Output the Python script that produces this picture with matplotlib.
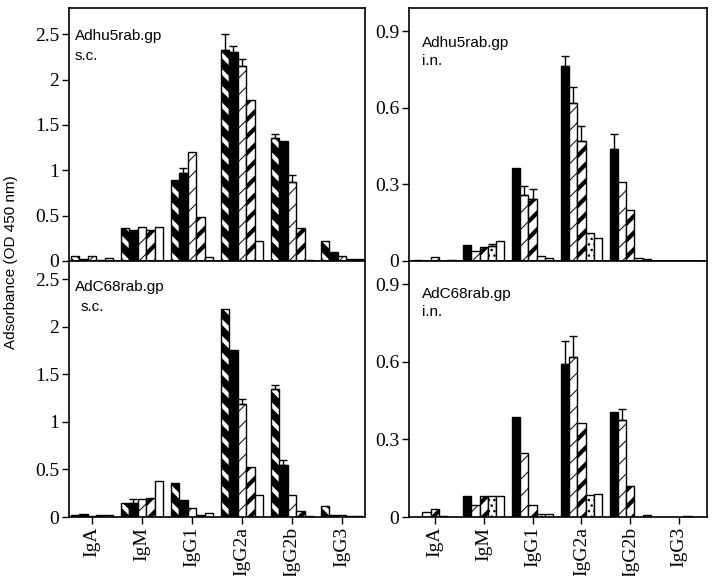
import matplotlib
matplotlib.use('Agg')
import matplotlib.pyplot as plt
import numpy as np

# Immunoglobulin isotypes on the x axis
isotypes = ['IgA', 'IgM', 'IgG1', 'IgG2a', 'IgG2b', 'IgG3']

# Adhu5rab.gp s.c. (5 series per isotype)
hu5_sc = [
    [0.05, 0.36, 0.89, 2.33, 1.36, 0.22],
    [0.02, 0.34, 0.97, 2.30, 1.32, 0.10],
    [0.05, 0.37, 1.20, 2.15, 0.87, 0.06],
    [0.01, 0.34, 0.48, 1.78, 0.36, 0.025],
    [0.03, 0.375, 0.04, 0.22, 0.01, 0.02],
]
hu5_sc_err = [
    [0, 0, 0, 0.17, 0.04, 0],
    [0, 0, 0.06, 0.07, 0, 0],
    [0, 0, 0, 0.08, 0.08, 0],
    [0, 0, 0, 0, 0, 0],
    [0, 0, 0, 0, 0, 0],
]

# AdC68rab.gp s.c.
c68_sc = [
    [0.025, 0.15, 0.36, 2.19, 1.34, 0.12],
    [0.035, 0.15, 0.175, 1.75, 0.55, 0.025],
    [0.015, 0.19, 0.09, 1.19, 0.23, 0.025],
    [0.025, 0.20, 0.025, 0.53, 0.065, 0.015],
    [0.025, 0.375, 0.04, 0.23, 0.015, 0.015],
]
c68_sc_err = [
    [0, 0, 0, 0, 0.05, 0],
    [0, 0.04, 0, 0, 0.05, 0],
    [0, 0, 0, 0.05, 0, 0],
    [0, 0, 0, 0, 0, 0],
    [0, 0, 0, 0, 0, 0],
]

# Adhu5rab.gp i.n.
hu5_in = [
    [0.005, 0.064, 0.363, 0.763, 0.438, 0.0],
    [0.0, 0.04, 0.258, 0.617, 0.309, 0.0],
    [0.017, 0.055, 0.243, 0.47, 0.20, 0.0],
    [0.0, 0.06, 0.02, 0.108, 0.013, 0.0],
    [0.004, 0.077, 0.01, 0.089, 0.008, 0.0],
]
hu5_in_err = [
    [0, 0, 0, 0.04, 0.06, 0],
    [0, 0, 0.035, 0.065, 0, 0],
    [0, 0, 0.04, 0.06, 0, 0],
    [0, 0.008, 0, 0, 0, 0],
    [0, 0, 0, 0, 0, 0],
]

# AdC68rab.gp i.n.
c68_in = [
    [0.0, 0.08, 0.386, 0.592, 0.408, 0.0],
    [0.018, 0.045, 0.249, 0.619, 0.376, 0.0],
    [0.031, 0.08, 0.045, 0.363, 0.119, 0.0],
    [0.005, 0.08, 0.01, 0.087, 0.0, 0.003],
    [0.0, 0.08, 0.01, 0.09, 0.009, 0.0],
]
c68_in_err = [
    [0, 0, 0, 0.09, 0, 0],
    [0, 0, 0, 0.08, 0.04, 0],
    [0, 0, 0, 0, 0, 0],
    [0, 0, 0, 0, 0, 0],
    [0, 0, 0, 0, 0, 0],
]

# bar styles: (facecolor, hatch colour, hatch, hatch linewidth)
sc_styles = [('black', 'white', '\\\\', 3.0),
             ('black', 'black', '', 1.0),
             ('white', 'black', '//', 0.7),
             ('white', 'black', '//', 3.0),
             ('white', 'black', '', 1.0)]
in_styles = [('black', 'black', '', 1.0),
             ('white', 'black', '//', 0.7),
             ('white', 'black', '//', 3.0),
             ('white', 'black', '...', 1.0),
             ('white', 'black', '', 1.0)]

serif = 'Liberation Serif'
sans = 'Liberation Sans'

fig = plt.figure(figsize=(7.14, 5.76), dpi=100)
ax_tl = fig.add_axes([0.0966, 0.5469, 0.4146, 0.4392])
ax_bl = fig.add_axes([0.0966, 0.1024, 0.4146, 0.4445])
ax_tr = fig.add_axes([0.5728, 0.5469, 0.4174, 0.4392])
ax_br = fig.add_axes([0.5728, 0.1024, 0.4174, 0.4445])

x = np.arange(len(isotypes))
w = 0.17


def draw_panel(ax, values, errs, styles):
    for i in range(5):
        fc, hc, hatch, hlw = styles[i]
        pos = x + (i - 2) * w
        with plt.rc_context({'hatch.linewidth': hlw}):
            bars = ax.bar(pos, values[i], w, color=fc, edgecolor=hc, hatch=hatch, linewidth=0)
        for b in bars:
            if hasattr(b, 'set_hatch_linewidth'):
                b.set_hatch_linewidth(hlw)
        ax.bar(pos, values[i], w, fill=False, edgecolor='black', linewidth=1.0)
        e = np.array(errs[i])
        v = np.array(values[i])
        m = e > 0
        if m.any():
            ax.errorbar(pos[m], v[m], yerr=[np.zeros(m.sum()), e[m]], fmt='none',
                        ecolor='black', elinewidth=1.0, capsize=3, capthick=1.0)


draw_panel(ax_tl, hu5_sc, hu5_sc_err, sc_styles)
draw_panel(ax_bl, c68_sc, c68_sc_err, sc_styles)
draw_panel(ax_tr, hu5_in, hu5_in_err, in_styles)
draw_panel(ax_br, c68_in, c68_in_err, in_styles)

left_ticks = [0, 0.5, 1, 1.5, 2, 2.5]
left_labels = ['0', '0.5', '1', '1.5', '2', '2.5']
right_ticks = [0, 0.3, 0.6, 0.9]
right_labels = ['0', '0.3', '0.6', '0.9']

for ax in [ax_tl, ax_bl]:
    ax.set_xlim(-0.46, 5.46)
    ax.set_yticks(left_ticks)
    ax.set_yticklabels(left_labels, fontfamily=serif, fontsize=14)
for ax in [ax_tr, ax_br]:
    ax.set_xlim(-0.53, 5.57)
    ax.set_yticks(right_ticks)
    ax.set_yticklabels(right_labels, fontfamily=serif, fontsize=14)

ax_tl.set_ylim(0, 2.79)
ax_bl.set_ylim(0, 2.69)
ax_tr.set_ylim(0, 0.99)
ax_br.set_ylim(0, 0.99)

for ax in [ax_tl, ax_bl, ax_tr, ax_br]:
    ax.set_xticks(x)
    ax.tick_params(axis='both', direction='out', length=5, width=1, color='black', pad=2)
    for s in ax.spines.values():
        s.set_linewidth(1.2)

ax_tl.set_xticklabels([])
ax_tr.set_xticklabels([])
ax_tr.tick_params(axis='x', length=0)
for ax in [ax_bl, ax_br]:
    ax.set_xticklabels(isotypes, rotation=90, fontfamily=serif, fontsize=14)

ax_tl.text(0.02, 0.89, 'Adhu5rab.gp', transform=ax_tl.transAxes, fontfamily=sans, fontsize=11, va='center')
ax_tl.text(0.02, 0.81, 's.c.', transform=ax_tl.transAxes, fontfamily=sans, fontsize=11, va='center')
ax_bl.text(0.02, 0.9, 'AdC68rab.gp', transform=ax_bl.transAxes, fontfamily=sans, fontsize=11, va='center')
ax_bl.text(0.04, 0.82, 's.c.', transform=ax_bl.transAxes, fontfamily=sans, fontsize=11, va='center')
ax_tr.text(0.045, 0.86, 'Adhu5rab.gp', transform=ax_tr.transAxes, fontfamily=sans, fontsize=11, va='center')
ax_tr.text(0.045, 0.79, 'i.n.', transform=ax_tr.transAxes, fontfamily=sans, fontsize=11, va='center')
ax_br.text(0.045, 0.87, 'AdC68rab.gp', transform=ax_br.transAxes, fontfamily=sans, fontsize=11, va='center')
ax_br.text(0.045, 0.8, 'i.n.', transform=ax_br.transAxes, fontfamily=sans, fontsize=11, va='center')

fig.text(0.015, 0.545, 'Adsorbance (OD 450 nm)', rotation=90, fontfamily=sans, fontsize=11,
         ha='center', va='center')

fig.savefig('out.png', dpi=100)
